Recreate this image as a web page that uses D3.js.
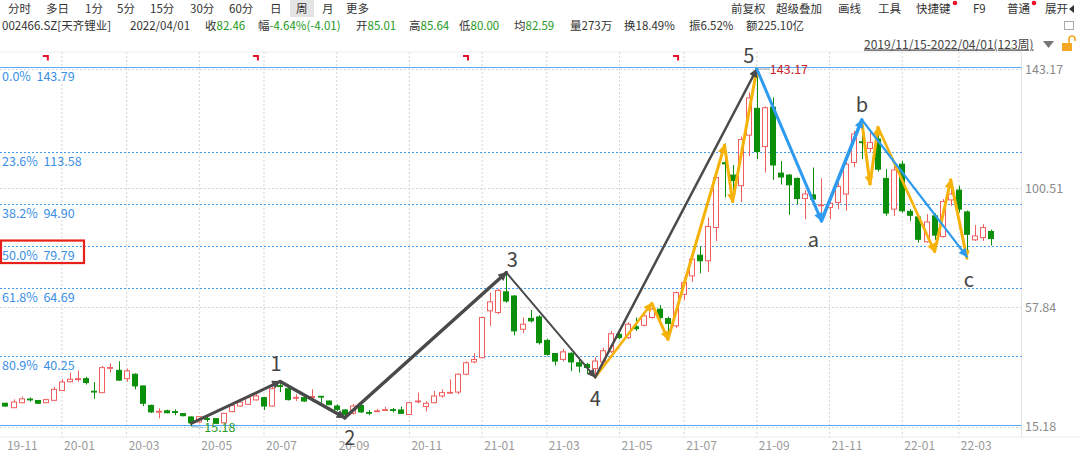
<!DOCTYPE html>
<html><head><meta charset="utf-8">
<script src="https://cdn.jsdelivr.net/npm/d3@7"></script>
<style>
body{margin:0;background:#fff;overflow:hidden;}
svg text{font-family:"Microsoft YaHei","Noto Sans CJK SC","Noto Sans",sans-serif;}
</style>
</head><body>
<svg id="c" width="1080" height="457"></svg>
<script>
// ---------------- DATA ----------------
const dates = [
"2019-11-15","2019-11-22","2019-11-29","2019-12-06","2019-12-13","2019-12-20","2019-12-27",
"2020-01-03","2020-01-10","2020-01-17","2020-01-23","2020-02-07","2020-02-14","2020-02-21","2020-02-28",
"2020-03-06","2020-03-13","2020-03-20","2020-03-27","2020-04-03","2020-04-10","2020-04-17","2020-04-24","2020-04-30",
"2020-05-08","2020-05-15","2020-05-22","2020-05-29","2020-06-05","2020-06-12","2020-06-19","2020-06-24",
"2020-07-03","2020-07-10","2020-07-17","2020-07-24","2020-07-31","2020-08-07","2020-08-14","2020-08-21","2020-08-28",
"2020-09-04","2020-09-11","2020-09-18","2020-09-25","2020-09-30","2020-10-09","2020-10-16","2020-10-23","2020-10-30",
"2020-11-06","2020-11-13","2020-11-20","2020-11-27","2020-12-04","2020-12-11","2020-12-18","2020-12-25","2020-12-31",
"2021-01-08","2021-01-15","2021-01-22","2021-01-29","2021-02-05","2021-02-10","2021-02-19","2021-02-26",
"2021-03-05","2021-03-12","2021-03-19","2021-03-26","2021-04-02","2021-04-09","2021-04-16","2021-04-23","2021-04-30",
"2021-05-07","2021-05-14","2021-05-21","2021-05-28","2021-06-04","2021-06-11","2021-06-18","2021-06-25",
"2021-07-02","2021-07-09","2021-07-16","2021-07-23","2021-07-30","2021-08-06","2021-08-13","2021-08-20","2021-08-27",
"2021-09-03","2021-09-10","2021-09-17","2021-09-24","2021-09-30","2021-10-08","2021-10-15","2021-10-22","2021-10-29",
"2021-11-05","2021-11-12","2021-11-19","2021-11-26","2021-12-03","2021-12-10","2021-12-17","2021-12-24","2021-12-31",
"2022-01-07","2022-01-14","2022-01-21","2022-01-28","2022-02-11","2022-02-18","2022-02-25",
"2022-03-04","2022-03-11","2022-03-18","2022-03-25","2022-04-01"];

const open = [23.5,21.9,23.7,25.0,24.5,23.7,24.55,28.1,31.2,32.0,32.3,27.8,27.3,36.1,35.3,32.3,33.9,29.7,22.75,20.4,
20.8,20.5,19.8,18.6,16.8,18.0,18.0,16.5,20.5,22.5,23.1,24.7,25.5,22.5,29.8,28.7,25.4,25.5,25.7,26.0,
24.3,22.5,21.1,19.9,22.7,20.2,20.6,21.0,21.2,21.1,19.5,24.1,22.3,23.7,26.1,27.2,27.5,33.9,38.3,39.8,
56.6,56.0,63.4,61.9,50.0,53.9,54.4,46.0,41.3,39.2,41.4,38.0,37.4,35.9,38.3,42.0,48.2,47.0,50.9,51.4,
54.2,57.2,53.8,51.2,62.5,69.1,76.5,74.5,86.4,109.6,105.2,101.4,119.5,129.1,115.4,129.5,105.9,105.2,104.0,96.8,
98.1,94.3,93.6,95.4,98.4,109.7,117.1,114.7,118.1,104.0,93.0,109.1,92.2,90.2,81.3,90.6,83.2,96.3,99.8,92.0,
82.0,82.8,85.01];
const high = [23.7,24.9,25.9,25.6,24.6,25.1,29.3,32.1,34.5,35.3,33.0,31.1,36.85,37.8,38.5,35.9,34.2,29.8,23.0,21.7,
21.2,21.3,20.0,18.8,18.9,18.9,18.2,20.0,23.5,24.6,26.0,26.8,25.8,29.9,31.3,29.4,26.7,26.0,28.5,26.1,
24.5,23.1,21.4,23.2,23.2,21.1,21.5,22.2,21.8,22.3,24.0,27.3,24.3,27.9,28.5,32.1,34.2,38.5,41.5,54.5,
63.1,64.5,70.3,62.2,54.2,56.9,55.0,46.6,41.5,43.0,41.7,39.0,38.0,40.0,43.4,49.4,50.0,52.5,54.2,55.5,
58.5,58.6,54.5,63.5,68.5,77.5,79.5,90.0,105.0,116.5,108.8,119.0,134.8,143.17,129.8,133.0,110.2,105.5,104.3,99.8,
107.9,104.0,97.2,102.6,110.3,121.0,125.0,120.5,121.0,107.3,108.5,110.3,93.0,90.5,91.2,91.5,96.6,100.2,101.4,92.5,
87.3,87.6,85.64];
const low = [22.3,21.8,23.5,24.1,23.2,23.6,24.4,27.9,31.0,31.2,30.2,25.1,27.2,34.5,31.5,31.2,28.5,22.5,20.0,18.1,
19.9,19.2,18.8,15.18,16.3,16.8,16.0,16.3,20.3,22.3,22.9,24.5,21.1,22.3,27.5,24.5,24.3,24.0,24.1,23.7,
22.8,20.7,18.4,19.5,20.0,19.2,20.3,20.7,20.2,19.7,19.3,23.5,20.6,23.5,25.5,27.0,26.8,33.5,37.8,39.6,
51.2,55.4,59.5,47.8,48.6,52.4,44.5,40.5,37.0,38.5,35.0,34.5,34.0,32.8,37.8,41.5,46.4,46.5,49.4,51.0,
53.8,53.5,46.4,50.5,60.5,67.0,70.0,70.5,81.5,97.2,96.6,95.5,112.0,110.9,106.1,103.5,101.8,91.0,94.8,89.4,
94.8,88.8,89.4,93.0,92.4,108.0,110.9,113.3,106.4,90.6,90.6,91.8,88.8,81.0,81.0,82.0,82.8,94.2,91.8,76.0,
81.6,81.6,80.00];
const close = [22.5,23.95,25.1,24.8,23.5,24.8,28.5,31.1,32.1,32.3,30.9,27.6,36.25,36.3,31.8,35.1,29.7,23.5,20.4,20.6,
20.1,20.3,19.05,16.5,18.7,17.8,16.3,19.9,22.7,23.9,25.5,26.1,22.5,28.7,29.6,24.8,25.6,24.3,25.9,25.8,
23.0,21.3,19.5,22.5,20.4,20.0,20.8,21.2,21.0,19.9,23.7,24.3,23.5,26.1,27.3,27.4,33.9,38.0,39.2,54.2,
59.8,63.9,60.1,49.4,51.8,53.0,45.2,41.0,38.6,41.9,38.3,36.8,36.3,38.6,42.3,48.4,47.0,51.8,50.2,54.8,
57.2,54.2,52.1,63.1,66.7,75.1,74.5,86.8,104.3,109.2,103.2,117.9,132.8,113.6,129.3,108.8,104.5,101.7,96.8,98.4,
96.6,94.5,95.1,101.1,109.1,119.9,116.8,116.9,107.3,91.6,107.0,92.4,90.8,82.2,88.4,83.7,95.7,98.4,93.0,84.0,
83.4,86.4,82.46];

const tickLabels = ["19-11","20-01","20-03","20-05","20-07","20-09","20-11","21-01","21-03","21-05","21-07","21-09","21-11","22-01","22-03"];
const priceTicks = [143.17, 100.51, 57.84, 15.18];
const fibRatios = ["0.0%","23.6%","38.2%","50.0%","61.8%","80.9%","100%"];
const fibValues = [143.79, 113.58, 94.90, 79.79, 64.69, 40.25, 15.79];
const markerDates = ["2019-12-20","2020-06-24","2020-12-25","2021-06-25"];

const waveMain = [["2020-04-30",16.3],["2020-07-17",31.3],["2020-09-11",18.3],["2021-01-29",70.3],["2021-04-16",32.8],["2021-09-03",143.17]];
const waveMainLabels = ["1","2","3","4","5"];
const waveCorr = [["2021-09-03",143.17],["2021-10-29",88.8],["2021-12-03",125.0],["2022-03-11",76.0]];
const waveCorrLabels = ["a","b","c"];
const subUp = [["2021-04-16",32.8],["2021-06-04",59.3],["2021-06-18",46.4],["2021-08-06",115.9],["2021-08-13",95.7],["2021-09-03",143.17]];
const subDown = [["2021-12-03",124.3],["2021-12-10",102.0],["2021-12-17",122.3],["2022-02-11",77.8],["2022-02-25",103.4],["2022-03-11",75.4]];

// ---------------- DRAW ----------------
const svg = d3.select("#c");
const W = 1080, plotRight = 1021.5, plotTop = 52, plotBottom = 437;
const x = d3.scaleBand().domain(dates).range([1.4, 995.2]).paddingInner(0.3).paddingOuter(0.15);
const xc = d => x(d) + x.bandwidth()/2;
const y = d3.scaleLinear().domain([15.18, 143.17]).range([426.5, 69]);
const RED = "#f25d5d", GREEN = "#0a8f0a";
const HF = 11.5;

svg.append("rect").attr("width",W).attr("height",457).attr("fill","#fff");

// ---- header row 1: period tabs
svg.append("rect").attr("x",290).attr("y",0).attr("width",24).attr("height",17).attr("fill","#e4e4e4");
const tabs = [["分时",8],["多日",46],["1分",85],["5分",117],["15分",150],["30分",190],["60分",229],["日",270],["周",296],["月",322],["更多",346]];
svg.selectAll("text.tab").data(tabs).join("text").attr("class","tab")
  .attr("x",d=>d[1]).attr("y",13.4).attr("font-size",HF).attr("fill","#333").text(d=>d[0]);
const tools = [["前复权",731],["超级叠加",776],["画线",838],["工具",878],["快捷键",916],["F9",973],["普通",1007],["展开",1045]];
svg.selectAll("text.tool").data(tools).join("text").attr("class","tool")
  .attr("x",d=>d[1]).attr("y",13.4).attr("font-size",HF).attr("fill","#333").text(d=>d[0]);
[[955,3],[1034,3]].forEach(p=>svg.append("circle").attr("cx",p[0]).attr("cy",p[1]).attr("r",2.3).attr("fill","#f0102a"));
svg.append("path").attr("d","M1074,5 L1069,9 L1074,13 Z").attr("fill","#333");

// ---- header row 2: quote info (label + green value)
const G2 = "#1e9a1e", T2 = "#333";
const info = [["002466.SZ[天齐锂业]","",2],["2022/04/01","",130],["收","82.46",205],["幅","-4.64%(-4.01)",258],
  ["开","85.01",356],["高","85.64",409],["低","80.00",459],["均","82.59",514],
  ["量","273万",570],["换","18.49%",624],["振","6.52%",689],["额","225.10亿",746]];
const greenVals = new Set(["收","幅","开","高","低","均"]);
const it = svg.selectAll("text.info").data(info).join("text").attr("class","info")
  .attr("x",d=>d[2]).attr("y",30.2).attr("font-size",HF).attr("fill",T2);
it.append("tspan").text(d=>d[0]);
it.append("tspan").attr("fill",d=>greenVals.has(d[0])?G2:T2).text(d=>d[1]);
svg.append("rect").attr("x",1064.5).attr("y",21.5).attr("width",9).attr("height",8).attr("fill","none").attr("stroke","#aaa");

// ---- header row 3: range
svg.append("text").attr("x",864).attr("y",48.5).attr("font-size",12).attr("fill","#444")
  .attr("text-decoration","underline").text("2019/11/15-2022/04/01(123周)");
svg.append("path").attr("d","M1043,41 L1054,41 L1048.5,48 Z").attr("fill","#777");
svg.append("rect").attr("x",1062).attr("y",43).attr("width",10).attr("height",8).attr("fill","#f5a623");
svg.append("path").attr("d","M1069,43 L1069,39 A3,3 0 0 1 1075,39 L1075,41").attr("fill","none").attr("stroke","#f5a623").attr("stroke-width",1.6);

// ---- plot frame
svg.append("line").attr("x1",0).attr("x2",plotRight).attr("y1",plotTop).attr("y2",plotTop).attr("stroke","#ececec");
svg.append("line").attr("x1",plotRight).attr("x2",plotRight).attr("y1",plotTop).attr("y2",plotBottom).attr("stroke","#e4e4e4");
svg.append("line").attr("x1",0).attr("x2",W).attr("y1",plotBottom).attr("y2",plotBottom).attr("stroke","#ececec");

// ---- vertical month grid + x labels
const tickDates = tickLabels.map(t => dates.find(d => d.slice(2,7) === t));
svg.selectAll("line.vg").data(tickDates.slice(1)).join("line").attr("class","vg")
  .attr("x1",d=>xc(d)).attr("x2",d=>xc(d)).attr("y1",plotTop).attr("y2",plotBottom)
  .attr("stroke","#d6d6d6").attr("stroke-dasharray","2,2");
svg.selectAll("text.xl").data(tickLabels).join("text").attr("class","xl")
  .attr("x",(d,i)=>xc(tickDates[i])+ (i===0?1.5:2)).attr("y",450).attr("font-size",12).attr("fill","#999").text(d=>d);

// ---- horizontal price grid + right axis
svg.selectAll("line.hg").data(priceTicks).join("line").attr("class","hg")
  .attr("x1",0).attr("x2",plotRight).attr("y1",d=>Math.round(y(d))+0.5).attr("y2",d=>Math.round(y(d))+0.5)
  .attr("stroke","#d6d6d6").attr("stroke-dasharray","2,2");
svg.selectAll("text.yl").data(priceTicks).join("text").attr("class","yl")
  .attr("x",1025).attr("y",d=>y(d)+4.5).attr("font-size",12.5).attr("fill","#8c8c8c").text(d=>d.toFixed(2));

// ---- fibonacci lines
const fib = fibValues.map((v,i)=>({v, r:fibRatios[i], i}));
svg.selectAll("line.fib").data(fib).join("line").attr("class","fib")
  .attr("x1",0).attr("x2",plotRight).attr("y1",d=>Math.round(y(d.v))+0.5).attr("y2",d=>Math.round(y(d.v))+0.5)
  .attr("stroke","#3f9af0").attr("stroke-width",1)
  .attr("stroke-dasharray",d=>(d.i===0||d.i===fib.length-1)?null:"2,2")
  .attr("opacity",d=>(d.i===0||d.i===fib.length-1)?0.85:1);
svg.selectAll("text.fibl").data(fib.slice(0,-1)).join("text").attr("class","fibl")
  .attr("x",2).attr("y",d=>y(d.v)+14).attr("font-size",12.5).attr("fill","#3a8fe6")
  .attr("xml:space","preserve").text(d=>d.r+"  "+d.v.toFixed(2));
// highlight box around 50%
const f50 = y(fibValues[3]);
svg.append("rect").attr("x",1).attr("y",f50-5.5).attr("width",83).attr("height",22.5)
  .attr("fill","none").attr("stroke","#e8201c").attr("stroke-width",2.2);

// ---- red ex-right markers
svg.selectAll("path.mk").data(markerDates).join("path").attr("class","mk")
  .attr("d",d=>{const cx=xc(d)+1;return `M${cx-4},55 L${cx+2},55 L${cx+2},60.5 L${cx},60.5 L${cx},57 L${cx-4},57 Z`;})
  .attr("fill","#e8102a");

// ---- candles
const candles = dates.map((d,i)=>({d,o:open[i],h:high[i],l:low[i],c:close[i]}));
const cg = svg.append("g");
cg.selectAll("line.wick").data(candles).join("line").attr("class","wick")
  .attr("x1",d=>Math.round(xc(d.d))+0.5).attr("x2",d=>Math.round(xc(d.d))+0.5)
  .attr("y1",d=>y(d.h)).attr("y2",d=>y(d.l))
  .attr("stroke",d=>d.c>=d.o?RED:GREEN).attr("stroke-width",1);
const bw = Math.round(x.bandwidth());
cg.selectAll("rect.body").data(candles).join("rect").attr("class","body")
  .attr("x",d=>Math.round(xc(d.d))-Math.floor(bw/2)+0.5)
  .attr("width",bw-1)
  .attr("y",d=>y(Math.max(d.o,d.c)))
  .attr("height",d=>Math.max(0.8,Math.abs(y(d.o)-y(d.c))))
  .attr("fill",d=>d.c>=d.o?"#fff":GREEN)
  .attr("stroke",d=>d.c>=d.o?RED:GREEN).attr("stroke-width",1);

// ---- high / low annotations
const hiIdx = d3.maxIndex(high), loIdx = d3.minIndex(low);
svg.append("line").attr("x1",xc(dates[hiIdx])+1).attr("x2",xc(dates[hiIdx])+13).attr("y1",y(high[hiIdx])).attr("y2",y(high[hiIdx]))
  .attr("stroke","#aaa");
svg.append("text").attr("x",xc(dates[hiIdx])+13).attr("y",y(high[hiIdx])+5).attr("font-size",12.5).attr("fill","#c8282c").text(high[hiIdx].toFixed(2));
svg.append("line").attr("x1",xc(dates[loIdx])+1).attr("x2",xc(dates[loIdx])+12).attr("y1",y(low[loIdx])).attr("y2",y(low[loIdx])+1)
  .attr("stroke","#8fb8d8");
svg.append("text").attr("x",xc(dates[loIdx])+13).attr("y",y(low[loIdx])+5.5).attr("font-size",12.5).attr("fill","#2a9a2a").text(low[loIdx].toFixed(2));

// ---- arrows
const defs = svg.append("defs");
function marker(id,color,size){
  defs.append("marker").attr("id",id).attr("viewBox","0 0 10 10").attr("refX",9).attr("refY",5)
    .attr("markerUnits","userSpaceOnUse").attr("markerWidth",size).attr("markerHeight",size*0.8).attr("orient","auto")
    .append("path").attr("d","M0,0 L10,5 L0,10 Z").attr("fill",color);
}
marker("mk-gray","#4a4a4a",11); marker("mk-blue","#2f9bef",11); marker("mk-orange","#f7b20a",11);
const pt = p => [xc(p[0]), y(p[1])];
function segs(points, color, widths, mk){
  for(let i=0;i<points.length-1;i++){
    const a = pt(points[i]), b = pt(points[i+1]);
    svg.append("line").attr("x1",a[0]).attr("y1",a[1]).attr("x2",b[0]).attr("y2",b[1])
      .attr("stroke",color).attr("stroke-width",widths[i]).attr("stroke-linecap","round")
      .attr("marker-end",`url(#${mk})`);
  }
}
segs(subUp,"#f7b20a",[2.6,3,3,3,3],"mk-orange");
segs(subDown,"#f7b20a",[3,3,2.6,3,3],"mk-orange");
segs(waveMain,"#4a4a4a",[3,3.5,3.5,2,2.5],"mk-gray");
segs(waveCorr,"#2f9bef",[3,3.5,2.2],"mk-blue");

// ---- wave labels
const mainOff = [[-4,-10],[5,27],[6,-6],[0,29],[-8,-6]];
svg.selectAll("text.wl").data(waveMainLabels).join("text").attr("class","wl")
  .attr("x",(d,i)=>pt(waveMain[i+1])[0]+mainOff[i][0]).attr("y",(d,i)=>pt(waveMain[i+1])[1]+mainOff[i][1])
  .attr("text-anchor","middle").attr("font-size",20).attr("fill","#444").text(d=>d);
const corrOff = [[-8,26],[0,-8],[2,30]];
svg.selectAll("text.cl").data(waveCorrLabels).join("text").attr("class","cl")
  .attr("x",(d,i)=>pt(waveCorr[i+1])[0]+corrOff[i][0]).attr("y",(d,i)=>pt(waveCorr[i+1])[1]+corrOff[i][1])
  .attr("text-anchor","middle").attr("font-size",20).attr("fill","#444").text(d=>d);
</script>
</body></html>
